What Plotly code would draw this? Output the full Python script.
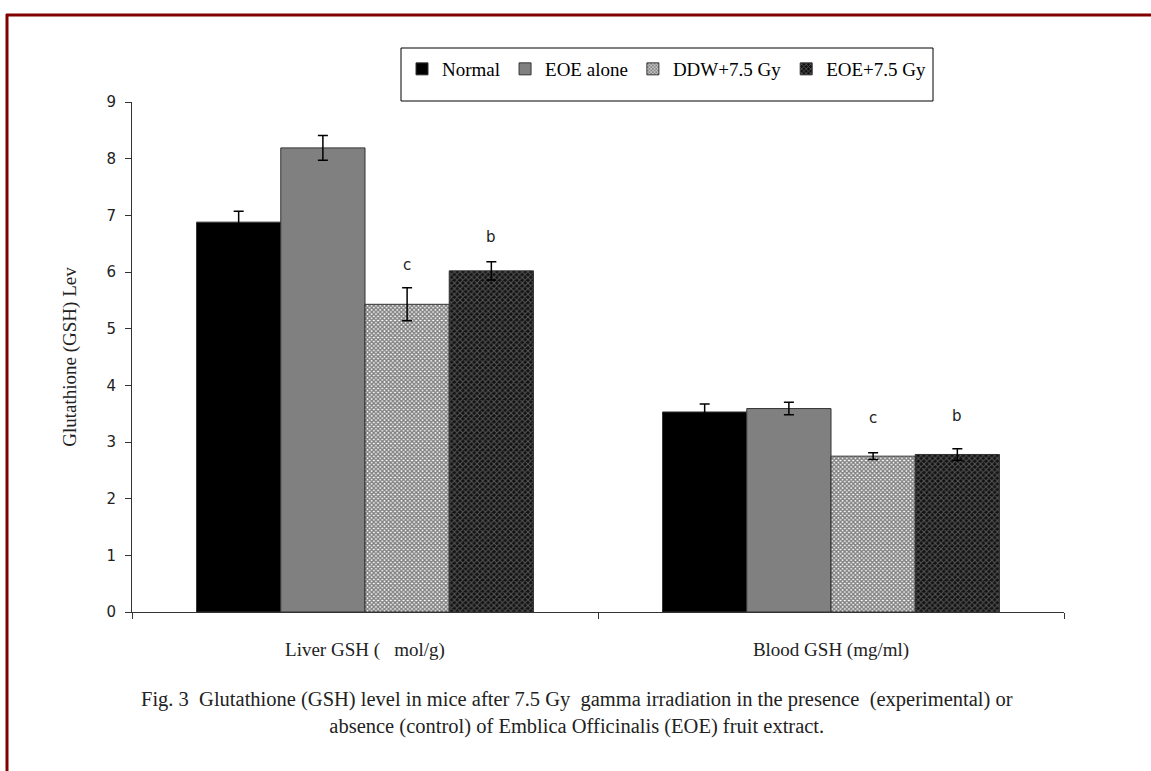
import plotly.graph_objects as go

categories = ["Liver GSH (\u00a0\u00a0 mol/g)", "Blood GSH (mg/ml)"]
series_names = ["Normal", "EOE alone", "DDW+7.5 Gy", "EOE+7.5 Gy"]
normal = [6.88, 3.53]
eoe_alone = [8.19, 3.59]
ddw_gy = [5.43, 2.75]
eoe_gy = [6.02, 2.78]
normal_err = [0.19, 0.14]
eoe_alone_err = [0.22, 0.11]
ddw_gy_err = [0.29, 0.06]
eoe_gy_err = [0.16, 0.10]
sig_labels_ddw = ["c", "c"]
sig_labels_eoe = ["b", "b"]
sig_y_ddw = [6.12, 3.42]
sig_y_eoe = [6.62, 3.46]
y_ticks = [0, 1, 2, 3, 4, 5, 6, 7, 8, 9]
caption = ("Fig. 3  Glutathione (GSH) level in mice after 7.5 Gy  gamma irradiation in the presence  (experimental) or<br>"
           "absence (control) of Emblica Officinalis (EOE) fruit extract.")

values = [normal, eoe_alone, ddw_gy, eoe_gy]
errors = [normal_err, eoe_alone_err, ddw_gy_err, eoe_gy_err]
styles = [
    dict(color="#000000"),
    dict(color="#808080"),
    dict(color="#ffffff", pattern=dict(shape="x", fgcolor="#000000", bgcolor="#ffffff", size=3, solidity=0.7)),
    dict(color="#333333", pattern=dict(shape="x", fgcolor="#9a9a9a", bgcolor="#111111", size=4, solidity=0.45)),
]

fig = go.Figure()
for name, vals, errs, st in zip(series_names, values, errors, styles):
    fig.add_trace(go.Bar(
        name=name, x=categories, y=vals,
        error_y=dict(type="data", array=errs, visible=True, color="#000000", thickness=1.5, width=5),
        marker=dict(line=dict(color="#333333", width=1), **st),
    ))

bargap = 0.277
bar_w = (1 - bargap) / 4
annotations = []
for i in range(len(categories)):
    annotations.append(dict(x=i + 0.5 * bar_w, y=sig_y_ddw[i], xref="x", yref="y", text=sig_labels_ddw[i],
                            showarrow=False, font=dict(family="DejaVu Sans", size=15, color="#222222")))
    annotations.append(dict(x=i + 1.5 * bar_w, y=sig_y_eoe[i], xref="x", yref="y", text=sig_labels_eoe[i],
                            showarrow=False, font=dict(family="DejaVu Sans", size=15, color="#222222")))

# plot area: x 132..1064, y 102..612
W, H = 1151, 771
L, R, T, B = 132, 1064, 102, 612
def px(x):
    return (x - L) / (R - L)
def py(y):
    return (B - y) / (B - T)

annotations.append(dict(x=px(577), y=py(713), xref="paper", yref="paper", text=caption, showarrow=False,
                        xanchor="center", yanchor="middle", align="center",
                        font=dict(family="Liberation Serif", size=20.5, color="#222222")))

shapes = [
    dict(type="line", xref="paper", yref="paper", x0=px(6), x1=px(1160), y0=py(15), y1=py(15),
         line=dict(color="#800000", width=3)),
    dict(type="line", xref="paper", yref="paper", x0=px(7), x1=px(7), y0=py(14), y1=py(790),
         line=dict(color="#800000", width=3)),
    dict(type="rect", xref="paper", yref="paper", x0=px(401), x1=px(933), y0=py(48), y1=py(101),
         line=dict(color="#000000", width=1), fillcolor="rgba(0,0,0,0)"),
]

fig.update_layout(
    width=W, height=H,
    margin=dict(l=L, r=W - R, t=T, b=H - B, autoexpand=False),
    paper_bgcolor="#ffffff", plot_bgcolor="#ffffff",
    barmode="group", bargap=bargap, bargroupgap=0,
    showlegend=True,
    legend=dict(orientation="h", x=px(667), xanchor="center", y=py(50), yanchor="top",
                font=dict(family="Liberation Serif", size=19, color="#000000"),
                bgcolor="rgba(0,0,0,0)", borderwidth=0, itemwidth=30, traceorder="normal"),
    font=dict(family="Liberation Serif", color="#222222"),
    xaxis=dict(showline=True, linecolor="#333333", linewidth=1, ticks="outside", tickson="boundaries",
               ticklen=6, tickcolor="#333333", showgrid=False,
               tickfont=dict(family="Liberation Serif", size=19, color="#222222"), ticklabelstandoff=20),
    yaxis=dict(range=[0, 9], tickvals=y_ticks, showline=True, linecolor="#333333", linewidth=1,
               ticks="outside", ticklen=6, tickcolor="#333333", showgrid=False, zeroline=False,
               tickfont=dict(family="DejaVu Sans", size=15, color="#222222"), ticklabelstandoff=6,
               title=dict(text="Glutathione (GSH) Lev", font=dict(family="Liberation Serif", size=19, color="#222222"),
                          standoff=24)),
    annotations=annotations,
    shapes=shapes,
)

fig.write_html("out.html", config={"displayModeBar": False},
               post_script="document.body.style.margin='0';")
